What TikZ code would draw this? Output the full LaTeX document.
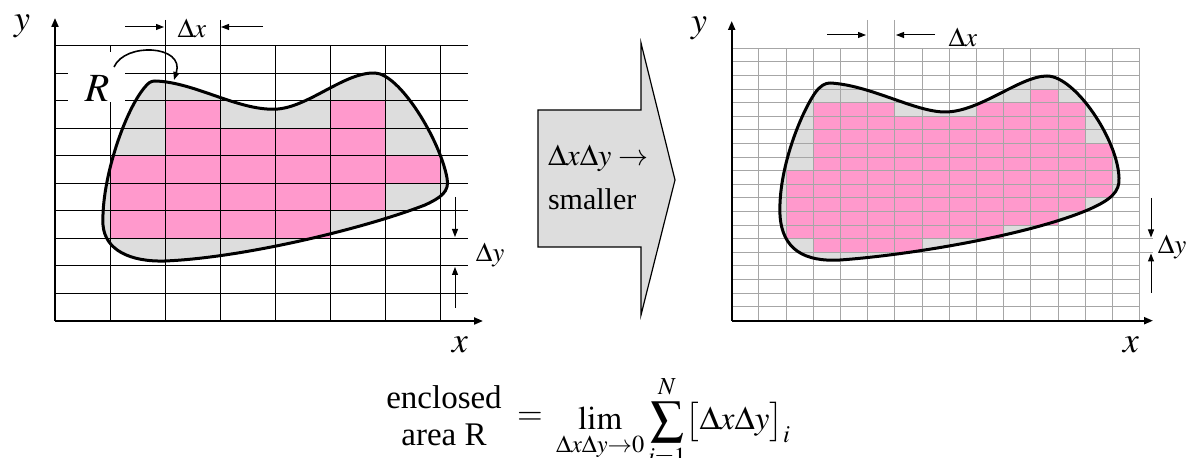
\documentclass[tikz,border=0pt]{standalone}
\usepackage{mathptmx}
\usepackage[no-math]{fontspec}
\setmainfont{Liberation Serif}
\usetikzlibrary{arrows.meta, positioning}

\definecolor{cellpink}{RGB}{255,153,204}
\definecolor{regiongray}{RGB}{221,221,221}
\definecolor{finegray}{RGB}{166,166,166}

% outline of the region R, coarse and fine picture
\def\regionL{(155,81) .. controls (195,82) and (240,112) .. (278,109)
  .. controls (310,106) and (345,72) .. (375,73)
  .. controls (400,74) and (440,140) .. (447,178)
  .. controls (450,192) and (440,198) .. (425,205)
  .. controls (360,230) and (240,258) .. (165,261)
  .. controls (130,262) and (105,250) .. (103,225)
  .. controls (101,180) and (125,110) .. (145,87)
  .. controls (148,83) and (151,81) .. (155,81) -- cycle}
\def\regionR{(830,83) .. controls (870,85) and (915,112) .. (945,112)
  .. controls (980,112) and (1020,76) .. (1047,76)
  .. controls (1075,76) and (1118,140) .. (1119,178)
  .. controls (1120,192) and (1110,200) .. (1090,209)
  .. controls (1030,235) and (910,255) .. (840,260)
  .. controls (805,262) and (782,250) .. (780,215)
  .. controls (778,170) and (800,115) .. (815,93)
  .. controls (820,86) and (825,83) .. (830,83) -- cycle}

\tikzset{
  gridline/.style={line width=0.5pt},
  finegrid/.style={line width=0.5pt, finegray},
  outline/.style={line width=1.5pt, line join=round},
  axisline/.style={line width=1pt, -{Triangle[length=4.5pt,width=3.5pt]}},
  deltaarrow/.style={line width=0.5pt, -{Triangle[length=4pt,width=3pt]}},
  axislabel/.style={font=\fontsize{18}{20}\selectfont},
  deltalabel/.style={font=\fontsize{13.5}{15}\selectfont},
  rlabel/.style={font=\fontsize{20}{22}\selectfont},
  midtext/.style={font=\fontsize{15}{22}\selectfont},
  formtext/.style={font=\fontsize{16.5}{18.5}\selectfont},
}

\begin{document}
\begin{tikzpicture}[x=0.5pt, y=-0.5pt]
  \useasboundingbox (0,0) rectangle (1188,458);

  % =========================================
  % 1. COARSE GRID (LEFT)
  % =========================================
  \fill[regiongray] \regionL;
  \foreach \r/\a/\b in {2/2/2, 2/5/5, 3/2/5, 4/1/6, 5/1/5, 6/1/4}
    \fill[cellpink] ({55+55*\a},{46+27.5*\r}) rectangle ({110+55*\b},{73.5+27.5*\r});
  \foreach \i in {1,...,7}
    \draw[gridline] ({55+55*\i},46) -- ({55+55*\i},321);
  \foreach \j in {0,...,9}
    \draw[gridline] (55,{46+27.5*\j}) -- (468,{46+27.5*\j});
  \draw[gridline] (165,20) -- (165,46) (220,20) -- (220,46);
  \fill[white] (68,52) rectangle (125,102);
  \draw[outline] \regionL;

  \coordinate (oL) at (55,321);
  \draw[axisline] (oL) -- (55,18);
  \draw[axisline] (oL) -- (483,321);
  \node[axislabel] (yL) at (22,26) {$y$};
  \node[axislabel] (xL) at (460,345) {$x$};

  % label R and its pointer
  \node[rlabel] (R) at (97,89) {$R$};
  \coordinate (rtip) at (174,80);
  \draw[line width=0.8pt, -{Triangle[length=4pt,width=3pt]}]
    (114,67) .. controls (125,42) and (185,45) .. (rtip);

  % spacing marks
  \node[deltalabel] (dxL) at (192,28) {$\Delta x$};
  \draw[deltaarrow] (125,27) -- (164,27);
  \draw[deltaarrow] (263,27) -- (221,27);
  \node[deltalabel] (dyL) at (490,255) {$\Delta y$};
  \draw[deltaarrow] (455,197) -- (455,237);
  \draw[deltaarrow] (455,308) -- (455,267);

  % =========================================
  % 2. BLOCK ARROW (MIDDLE)
  % =========================================
  \draw[line width=0.6pt, fill=regiongray] (538,110) -- (641,110) -- (641,43)
    -- (675,180) -- (641,315) -- (641,247) -- (538,247) -- cycle;
  \node[midtext, anchor=west, align=left] (shrink) at (541,177)
    {$\Delta x\Delta y\rightarrow$\\smaller};

  % =========================================
  % 3. FINE GRID (RIGHT)
  % =========================================
  \fill[regiongray] \regionR;
  \foreach \r/\a/\b in {3/11/11, 4/3/5, 4/9/12, 5/3/12, 6/3/12, 7/3/13, 8/3/13,
                        9/2/13, 10/2/13, 11/2/12, 12/2/11, 13/2/9, 14/3/6}
    \fill[cellpink] ({731.7+27.2*\a},{48.3+13.6*\r}) rectangle ({758.9+27.2*\b},{61.9+13.6*\r});
  \foreach \i in {1,...,15}
    \draw[finegrid] ({731.7+27.2*\i},48.3) -- ({731.7+27.2*\i},320.7);
  \foreach \j in {0,...,19}
    \draw[finegrid] (731.7,{48.3+13.6*\j}) -- (1139.7,{48.3+13.6*\j});
  \draw[finegrid] (867.7,20) -- (867.7,48.3) (894.9,20) -- (894.9,48.3);
  \draw[finegrid] (1139.7,238.7) -- (1153,238.7) (1139.7,252.3) -- (1153,252.3);
  \draw[outline] \regionR;

  \coordinate (oR) at (731.7,320.7);
  \draw[axisline] (oR) -- (731.7,21);
  \draw[axisline] (oR) -- (1153,320.7);
  \node[axislabel] (yR) at (699,28) {$y$};
  \node[axislabel] (xR) at (1131,345) {$x$};

  \node[deltalabel] (dxR) at (963,37) {$\Delta x$};
  \draw[deltaarrow] (827,35) -- (866,35);
  \draw[deltaarrow] (935,35) -- (896,35);
  \node[deltalabel] (dyR) at (1172,247) {$\Delta y$};
  \draw[deltaarrow] (1151,198) -- (1151,237.5);
  \draw[deltaarrow] (1151,293) -- (1151,253.5);

  % =========================================
  % 4. FORMULA
  % =========================================
  \node[formtext, align=center] (encl) at (444,416) {enclosed\\area R};
  \node[formtext] (eq) at (530,418) {$=$};
  \node[formtext, anchor=base west] (limsum) at (549,430)
    {$\displaystyle\lim_{\Delta x\Delta y\to 0}\sum_{i=1}^{N}\bigl[\Delta x\Delta y\bigr]_i$};
\end{tikzpicture}
\end{document}
